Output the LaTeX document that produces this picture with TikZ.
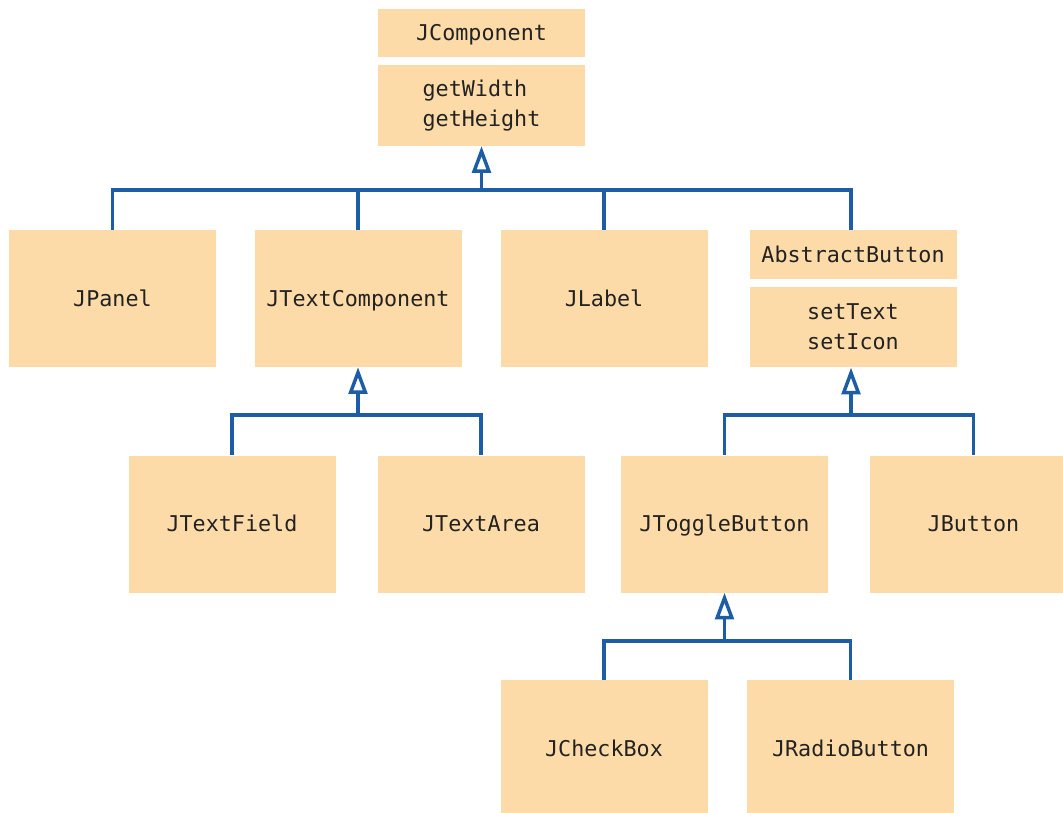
\documentclass[tikz,border=0pt]{standalone}
\usepackage{fontspec}
\setmonofont{DejaVu Sans Mono}
\usetikzlibrary{arrows.meta, positioning}
\definecolor{boxorange}{HTML}{FCDBA8}
\definecolor{lineblue}{HTML}{1D5DA6}
\definecolor{textgray}{HTML}{222222}

\begin{document}
\begin{tikzpicture}[x=0.75pt, y=-0.75pt,
                    node distance=5.5pt,
                    plainbox/.style={rectangle, fill=boxorange, text=textgray, inner sep=0pt, font=\ttfamily\fontsize{16.3}{22.5}\selectfont, minimum width=155.25pt},
                    classbox/.style={plainbox, text height=11.8pt, text depth=0pt, minimum height=102.75pt},
                    headerbox/.style={classbox, minimum height=36.5pt},
                    methodbox/.style={plainbox, align=left, minimum height=60.5pt},
                    link/.style={draw=lineblue, line width=2.6pt},
                    inherit/.style={link, -{Triangle[open, length=20pt, width=14pt]}}]

    \path[use as bounding box, clip] (0,0) rectangle (1063,813);

    % Class boxes
    \node[headerbox] (comp) at (481.5,33) {JComponent};
    \node[methodbox, below=of comp] (compm) {getWidth\\getHeight};

    \node[classbox] (panel) at (112.5,298.5) {JPanel};
    \node[classbox] (textcomp) at (358,298.5) {JTextComponent};
    \node[classbox] (label) at (604,298.5) {JLabel};
    \node[headerbox] (abstract) at (853,254.5) {AbstractButton};
    \node[methodbox, below=of abstract] (abstractm) {setText\\setIcon};

    \node[classbox] (textfield) at (232,524) {JTextField};
    \node[classbox] (textarea) at (481,524) {JTextArea};
    \node[classbox] (toggle) at (724.5,524) {JToggleButton};
    \node[classbox] (button) at (973.5,524) {JButton};

    \node[classbox] (checkbox) at (604,748.5) {JCheckBox};
    \node[classbox] (radio) at (850.5,748.5) {JRadioButton};

    % Junctions of the inheritance lines
    \coordinate (compjoin) at (481.5,190);
    \coordinate (textjoin) at (358,415);
    \coordinate (abstractjoin) at (851,415);
    \coordinate (togglejoin) at (724.5,641);

    % JComponent subclasses
    \draw[inherit] (compjoin) -- (compm.south);
    \draw[link] (panel.north) |- (compjoin);
    \draw[link] (textcomp.north) |- (compjoin);
    \draw[link] (label.north) |- (compjoin);
    \draw[link] (abstract.north -| abstractjoin) |- (compjoin);

    % JTextComponent subclasses
    \draw[inherit] (textjoin) -- (textcomp.south);
    \draw[link] (textfield.north) |- (textjoin);
    \draw[link] (textarea.north) |- (textjoin);

    % AbstractButton subclasses
    \draw[inherit] (abstractjoin) -- (abstractjoin |- abstractm.south);
    \draw[link] (toggle.north) |- (abstractjoin);
    \draw[link] (button.north) |- (abstractjoin);

    % JToggleButton subclasses
    \draw[inherit] (togglejoin) -- (toggle.south);
    \draw[link] (checkbox.north) |- (togglejoin);
    \draw[link] (radio.north) |- (togglejoin);

\end{tikzpicture}
\end{document}
